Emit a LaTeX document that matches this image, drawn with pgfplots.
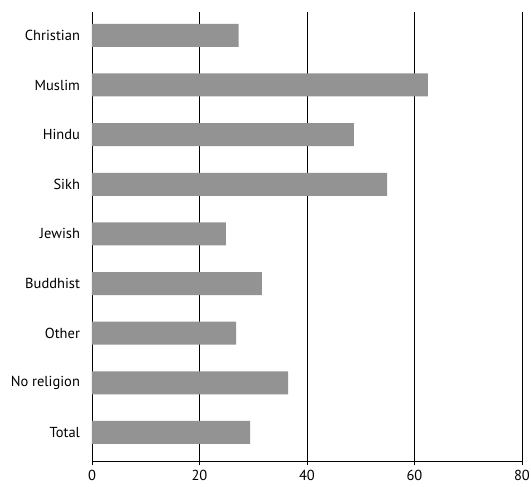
\documentclass[border=0pt]{standalone}
\usepackage{pgfplots}
\pgfplotsset{compat=1.18}
\usepackage{fontspec}
\setmainfont{PT Sans}
\definecolor{barGray}{HTML}{939393}
\begin{document}
\begin{tikzpicture}
\path[use as bounding box] (-92pt,-26pt) rectangle (439pt,461pt);
\begin{axis}[
 at={(0,0)}, anchor=south west,
 scale only axis, width=430pt, height=449pt,
 xbar, bar width=23pt,
 xmin=0, xmax=80, ymin=-0.574, ymax=8.47,
 axis x line=bottom, axis y line=left,
 axis line style={-, line width=0.9pt},
 xtick={0,20,...,80}, ytick={0,...,8},
 yticklabels={Total,No religion,Other,Buddhist,Jewish,Sikh,Hindu,Muslim,Christian},
 xmajorgrids, grid style={black, line width=0.8pt},
 tick align=outside, x tick style={black, line width=0.8pt}, major tick length=4.5pt,
 y tick style={draw=none},
 tick label style={font=\fontsize{14.5}{16}\selectfont},
 yticklabel style={xshift=-4pt},
 xticklabel style={inner sep=0pt, text depth=0pt, yshift=-4pt},
 /pgf/number format/assume math mode=true,
]
\addplot[fill=barGray, draw=none] coordinates {(29.4,0) (36.5,1) (26.8,2) (31.6,3) (24.9,4) (54.9,5) (48.7,6) (62.5,7) (27.3,8)};
\end{axis}
\end{tikzpicture}
\end{document}
